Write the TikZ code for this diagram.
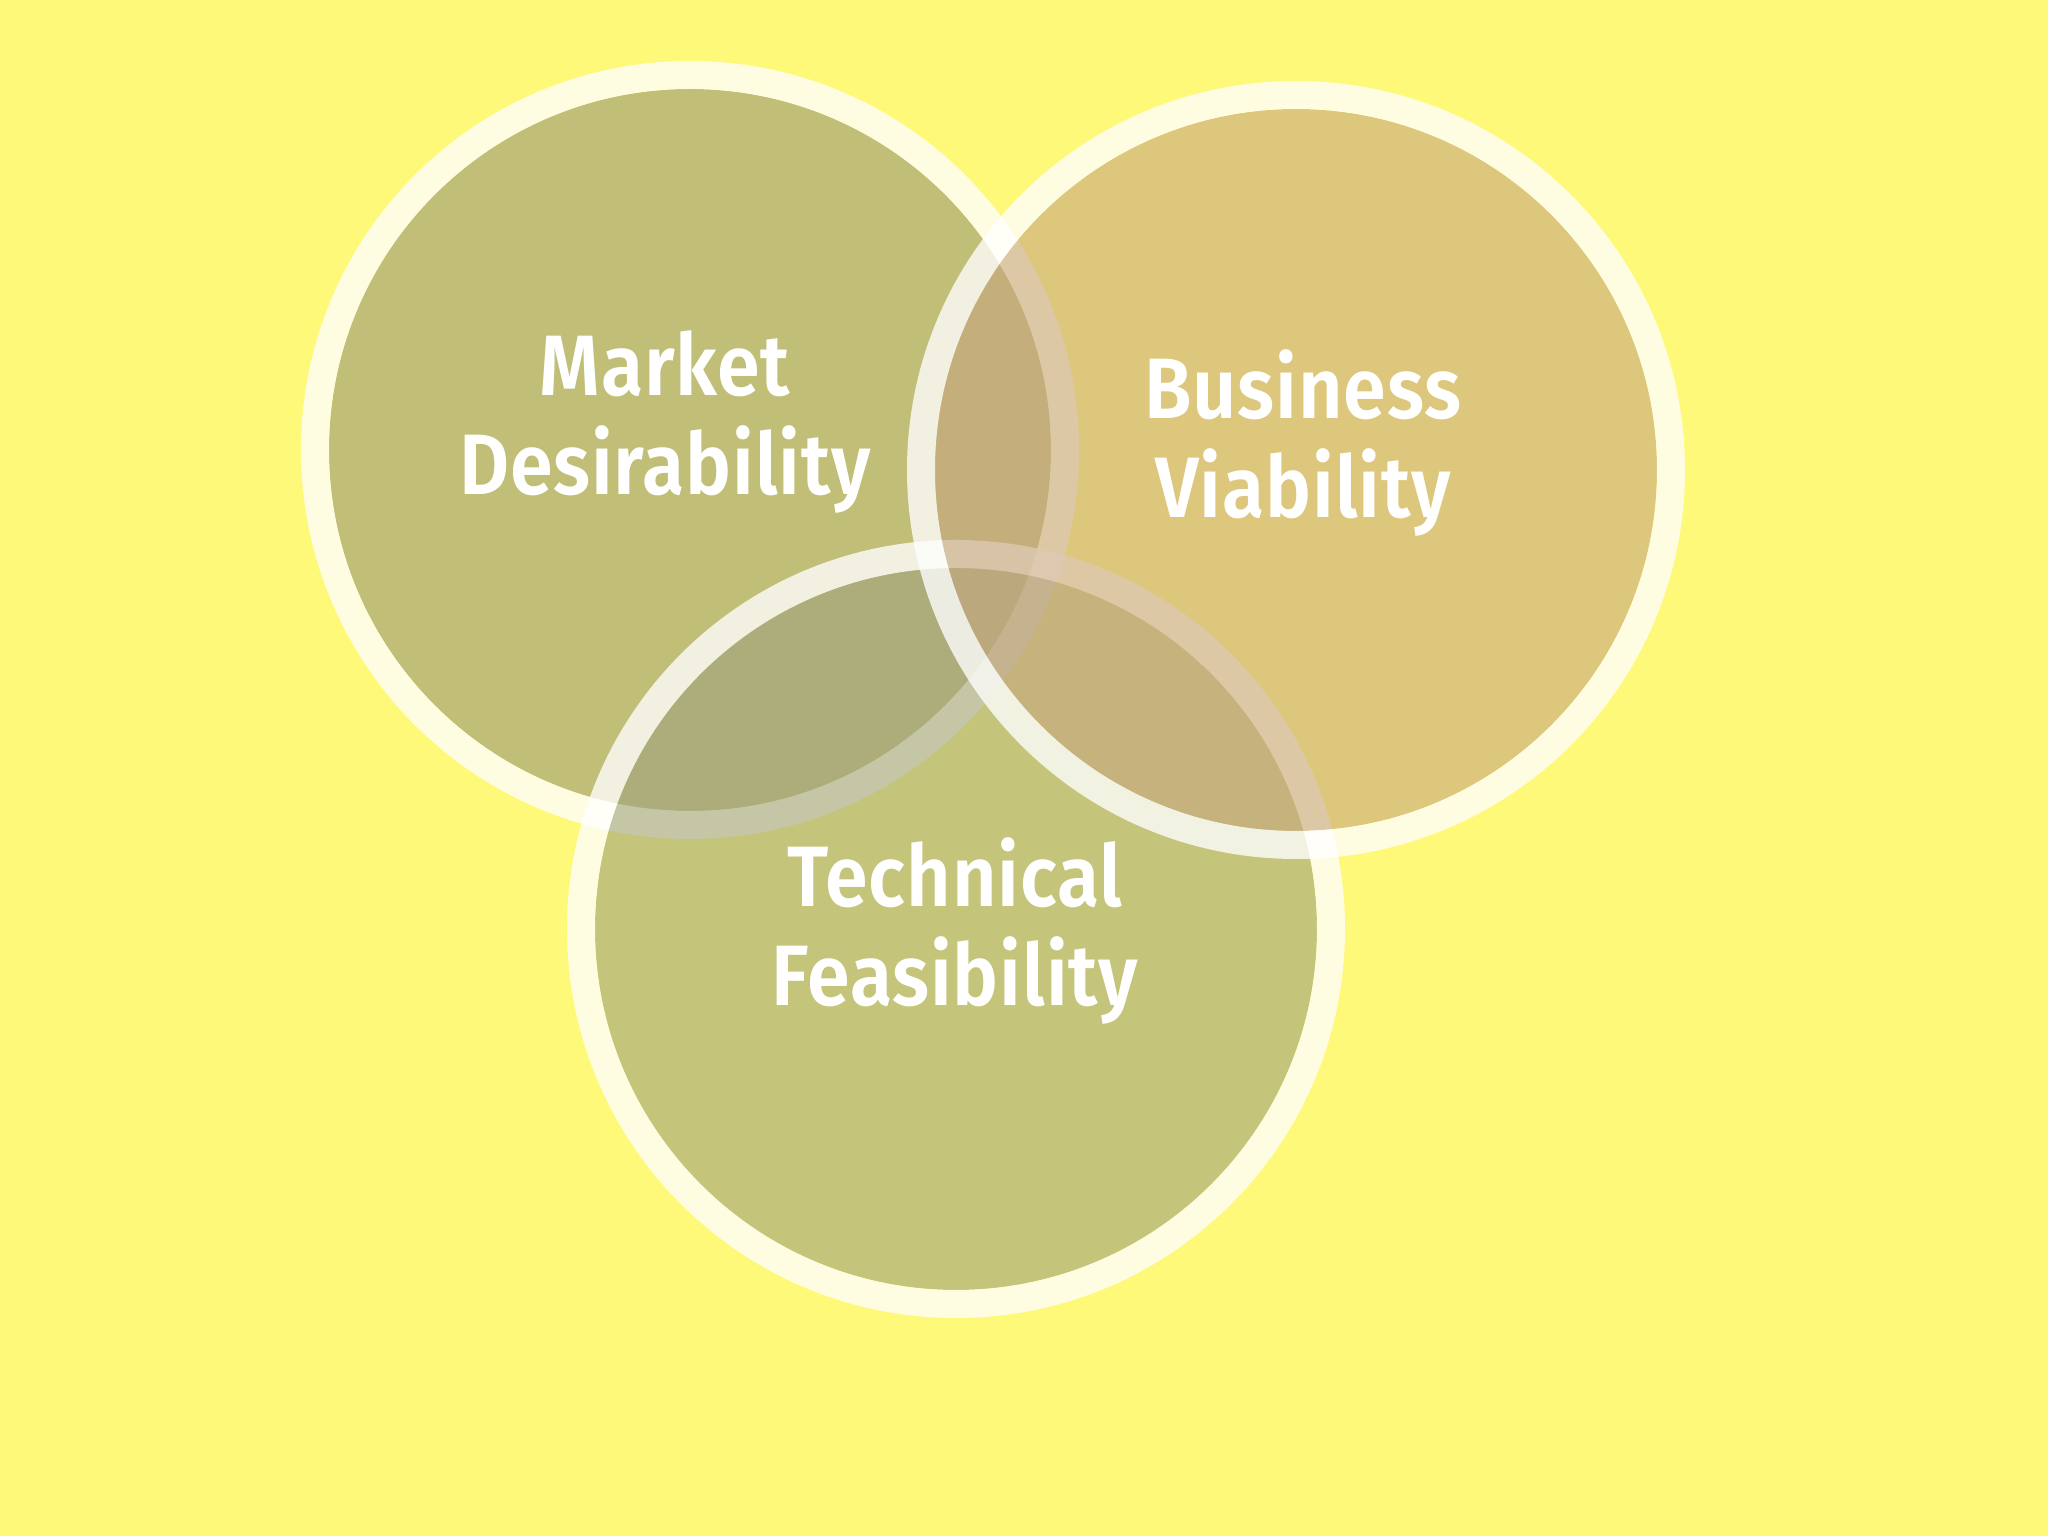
\documentclass[tikz,border=0pt]{standalone}
\usepackage{fontspec}
\setmainfont{Fira Sans}[FakeStretch=0.9, LetterSpace=1, BoldFont={Fira Sans SemiBold}]
\usepackage{tikz}
\usetikzlibrary{positioning}
\definecolor{bgyellow}{RGB}{255,249,122}
\definecolor{mktcol}{RGB}{153,151,119}
\definecolor{teccol}{RGB}{158,162,125}
\definecolor{buscol}{RGB}{199,166,127}
\tikzset{
	venn/.style={circle, minimum size=7.22cm, inner sep=0pt, fill opacity=0.6},
	ring/.style={draw=white, draw opacity=0.78, line width=0.28cm},
	lbl/.style={text=white, font=\fontsize{24.4}{27.9}\selectfont\bfseries, align=center}
}
\begin{document}
\begin{tikzpicture}
	\useasboundingbox (0,0) rectangle (20.48,15.36);
	\fill[bgyellow] (0,0) rectangle (20.48,15.36);
	
	% the three circles, each with its white rim
	\node[venn, fill=mktcol] (mkt) at (6.90,10.86) {};
	\draw[ring] (mkt.center) circle (3.75);
	\node[venn, fill=teccol] (tec) at (9.56,6.07) {};
	\draw[ring] (tec.center) circle (3.75);
	\node[venn, fill=buscol] (bus) at (12.96,10.66) {};
	\draw[ring] (bus.center) circle (3.75);
	
	\node[lbl] (mktlbl) at (6.65,11.14) {Market\\Desirability};
	\node[lbl] (buslbl) at (13.03,10.93) {Business\\Viability};
	\node[lbl] (teclbl) at (9.55,6.05) {Technical\\Feasibility};
\end{tikzpicture}
\end{document}
